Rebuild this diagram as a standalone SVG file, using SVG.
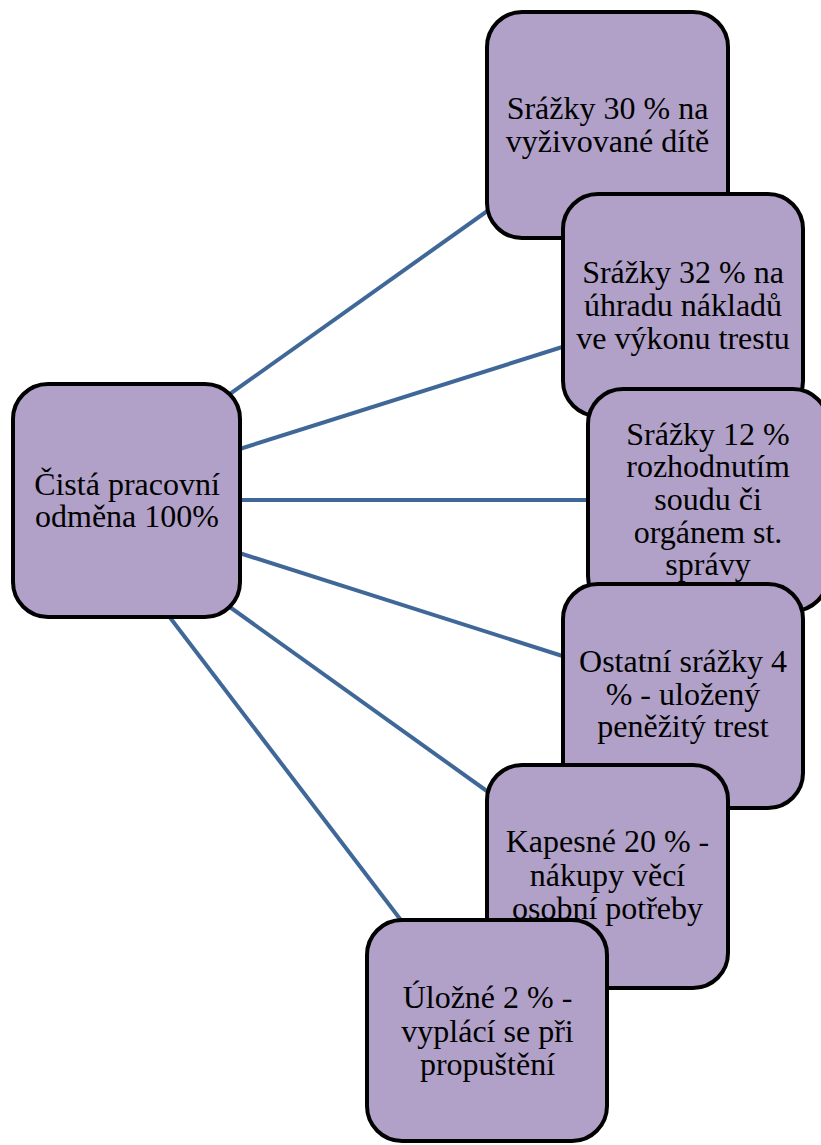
<svg xmlns="http://www.w3.org/2000/svg" width="821" height="1145" viewBox="0 0 821 1145">
<style>
.box{fill:#B1A0C7;stroke:#000;stroke-width:4}
.lbl{font-size:32px;fill:#000;text-anchor:middle}
.con{stroke:#3F6899;stroke-width:4;fill:none}
</style>
<rect width="821" height="1145" fill="#fff"/>
<g id="connectors">
<line class="con" x1="220" y1="401" x2="500" y2="202"/>
<line class="con" x1="230" y1="452" x2="575" y2="343"/>
<line class="con" x1="230" y1="500" x2="600" y2="500"/>
<line class="con" x1="230" y1="550" x2="575" y2="660"/>
<line class="con" x1="220" y1="600" x2="498" y2="799"/>
<line class="con" x1="165" y1="611" x2="410" y2="932"/>
</g>
<g font-family="'Liberation Serif', 'DejaVu Serif', serif">
<g id="center">
<rect class="box" x="13" y="384" width="227" height="233" rx="35"/>
<text class="lbl"><tspan x="127" y="495">Čistá pracovní</tspan><tspan x="127" y="527">odměna 100%</tspan></text>
</g>
<g id="n1">
<rect class="box" x="487" y="12" width="241" height="226" rx="35"/>
<text class="lbl"><tspan x="607.5" y="119">Srážky 30 % na</tspan><tspan x="607.5" y="152">vyživované dítě</tspan></text>
</g>
<g id="n2">
<rect class="box" x="563" y="194" width="240" height="222" rx="35"/>
<text class="lbl"><tspan x="683" y="283">Srážky 32 % na</tspan><tspan x="683" y="316">úhradu nákladů</tspan><tspan x="683" y="349">ve výkonu trestu</tspan></text>
</g>
<g id="n3">
<rect class="box" x="588" y="389" width="240" height="222" rx="35"/>
<text class="lbl"><tspan x="708" y="445">Srážky 12 %</tspan><tspan x="708" y="477">rozhodnutím</tspan><tspan x="708" y="510">soudu či</tspan><tspan x="708" y="543">orgánem st.</tspan><tspan x="708" y="575">správy</tspan></text>
</g>
<g id="n4">
<rect class="box" x="563" y="584" width="240" height="224" rx="35"/>
<text class="lbl"><tspan x="683" y="672">Ostatní srážky 4</tspan><tspan x="683" y="705">% - uložený</tspan><tspan x="683" y="737">peněžitý trest</tspan></text>
</g>
<g id="n5">
<rect class="box" x="487" y="765" width="241" height="223" rx="35"/>
<text class="lbl"><tspan x="607.5" y="852">Kapesné 20 % -</tspan><tspan x="607.5" y="886">nákupy věcí</tspan><tspan x="607.5" y="919">osobní potřeby</tspan></text>
</g>
<g id="n6">
<rect class="box" x="367" y="920" width="240" height="221" rx="35"/>
<text class="lbl"><tspan x="487.5" y="1008">Úložné 2 % -</tspan><tspan x="487.5" y="1042">vyplácí se při</tspan><tspan x="487.5" y="1075">propuštění</tspan></text>
</g>
</g>
</svg>
